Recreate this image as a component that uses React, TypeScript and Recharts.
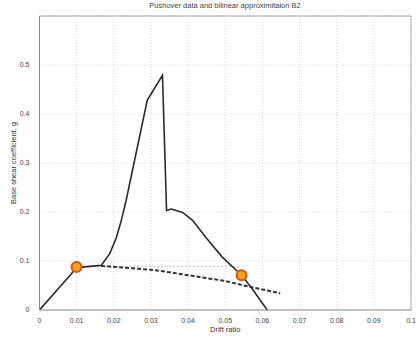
import React from "react";
import {
  ComposedChart,
  Line,
  Scatter,
  XAxis,
  YAxis,
  CartesianGrid,
  ReferenceLine,
} from "recharts";

// Pushover curve (drift ratio vs. base shear coefficient)
const pushoverDrift = [
  0, 0.0086, 0.0095, 0.0105, 0.0166, 0.0189, 0.0207, 0.022, 0.0233, 0.029,
  0.0331, 0.0342, 0.0355, 0.0385, 0.0412, 0.0448, 0.0492, 0.0544, 0.0572, 0.0613,
];
const pushoverShear = [
  0, 0.074, 0.083, 0.087, 0.091, 0.115, 0.148, 0.182, 0.223, 0.428, 0.479,
  0.203, 0.206, 0.199, 0.183, 0.148, 0.108, 0.071, 0.044, 0,
];

// Bilinear approximation branch (dashed)
const bilinearDrift = [0.0166, 0.025, 0.03, 0.035, 0.04, 0.045, 0.05, 0.055, 0.06, 0.0648];
const bilinearShear = [0.09, 0.085, 0.082, 0.077, 0.071, 0.065, 0.059, 0.05, 0.042, 0.034];

// Reference level between yield and ultimate points (dotted)
const levelDrift = [0.0166, 0.0537];
const levelShear = [0.089, 0.089];

// Yield and ultimate points
const pointDrift = [0.00996, 0.0544];
const pointShear = [0.0877, 0.071];

const xTicks = [0, 0.01, 0.02, 0.03, 0.04, 0.05, 0.06, 0.07, 0.08, 0.09, 0.1];
const yTicks = [0, 0.1, 0.2, 0.3, 0.4, 0.5, 0.6];

const zip = (xs: number[], ys: number[]) => xs.map((x, i) => ({ x, y: ys[i] }));

const pushoverData = zip(pushoverDrift, pushoverShear);
const bilinearData = zip(bilinearDrift, bilinearShear);
const levelData = zip(levelDrift, levelShear);
const pointData = zip(pointDrift, pointShear);

const FONT = "'Liberation Sans', Arial, sans-serif";
const fmt = (v: number) => String(+v.toFixed(2));

const Marker = (props: any) => {
  const { cx, cy } = props;
  return <circle cx={cx} cy={cy} r={5} fill="#f7a41d" stroke="#d2521c" strokeWidth={2} />;
};

export default function App() {
  return (
    <div style={{ position: "absolute", left: 0, top: 0, width: 417, height: 341, background: "#fff" }}>
      <ComposedChart
        width={417}
        height={341}
        margin={{ top: 16, right: 6, bottom: 0, left: 0 }}
      >
        <text x={225} y={8} textAnchor="middle" fontFamily={FONT} fontSize={7.5} fill="#444">
          Pushover data and bilinear approximitaion B2
        </text>
        <CartesianGrid stroke="#d4d4d4" strokeDasharray="1 2" />
        <XAxis
          type="number"
          dataKey="x"
          domain={[0, 0.1]}
          ticks={xTicks}
          tickFormatter={fmt}
          tickLine={false}
          axisLine={{ stroke: "#888" }}
          tick={{ fontFamily: FONT, fontSize: 7, fill: "#444" }}
          tickMargin={2}
          height={31}
          allowDataOverflow
          label={{ value: "Drift ratio", position: "insideBottom", offset: 9, fontFamily: FONT, fontSize: 7.5, fill: "#333" }}
        />
        <YAxis
          type="number"
          dataKey="y"
          domain={[0, 0.6]}
          ticks={yTicks}
          tickFormatter={(v: number) => (v >= 0.6 ? "" : fmt(v))}
          tickLine={false}
          axisLine={{ stroke: "#888" }}
          tick={{ fontFamily: FONT, fontSize: 7, fill: "#444" }}
          tickMargin={4}
          width={39.5}
          allowDataOverflow
          label={{ value: "Base shear coefficient, g", angle: -90, position: "insideLeft", offset: 13, fontFamily: FONT, fontSize: 7.5, fill: "#333", style: { textAnchor: "middle" } }}
        />
        <ReferenceLine y={0.6} stroke="#aaa" />
        <ReferenceLine x={0.1} stroke="#aaa" />
        <Line
          data={levelData}
          dataKey="y"
          type="linear"
          stroke="#bdbdbd"
          strokeWidth={1}
          strokeDasharray="2 2"
          dot={false}
          isAnimationActive={false}
        />
        <Line
          data={bilinearData}
          dataKey="y"
          type="monotone"
          stroke="#333"
          strokeWidth={2}
          strokeDasharray="4 2"
          dot={false}
          isAnimationActive={false}
        />
        <Line
          data={pushoverData}
          dataKey="y"
          type="linear"
          stroke="#2a2a2a"
          strokeWidth={1.6}
          dot={false}
          isAnimationActive={false}
        />
        <Scatter data={pointData} dataKey="y" shape={<Marker />} isAnimationActive={false} />
      </ComposedChart>
    </div>
  );
}
